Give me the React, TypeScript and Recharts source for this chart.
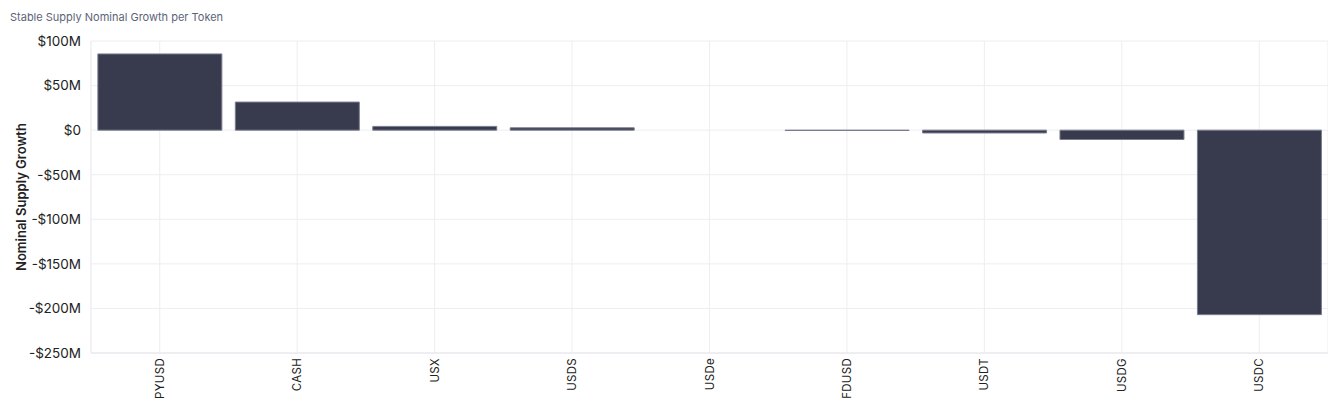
import React from 'react';
import { BarChart, Bar, XAxis, YAxis, CartesianGrid } from 'recharts';

const tokens = ['PYUSD', 'CASH', 'USX', 'USDS', 'USDe', 'FDUSD', 'USDT', 'USDG', 'USDC'];
const growth = [85.5, 31.5, 4.2, 2.6, 0, -0.4, -3.2, -10.5, -207];
const yTicks = [100, 50, 0, -50, -100, -150, -200, -250];

const data = tokens.map((t, i) => ({ token: t, value: growth[i] * 1e6 }));

const fmt = (v: number) => {
  const m = Math.round(v / 1e6);
  if (m === 0) return '$0';
  return m < 0 ? `-$${Math.abs(m)}M` : `$${m}M`;
};

const FONT = 'Inter, "Noto Sans", sans-serif';

const XTick = (props: any) => {
  const { x, y, payload } = props;
  return (
    <text
      x={0}
      y={0}
      transform={`translate(${x + 4},${y - 3}) rotate(-90)`}
      textAnchor="end"
      fontSize={11.5}
      fill="#222"
      fontFamily={FONT}
      letterSpacing={0.3}
    >
      {payload.value}
    </text>
  );
};

const App: React.FC = () => {
  return (
    <div style={{ position: 'relative', width: 1336, height: 410, margin: -8, background: '#fff' }}>
      <div
        style={{
          position: 'absolute',
          left: 10,
          top: 10,
          fontSize: 11,
          color: '#5b6478',
          fontFamily: FONT,
        }}
      >
        Stable Supply Nominal Growth per Token
      </div>
      <div
        style={{
          position: 'absolute',
          left: 21,
          top: 197,
          transform: 'translate(-50%, -50%) rotate(-90deg)',
          fontSize: 13,
          fontWeight: 600,
          color: '#222',
          fontFamily: FONT,
          whiteSpace: 'nowrap',
        }}
      >
        Nominal Supply Growth
      </div>
      <BarChart
        width={1336}
        height={410}
        data={data}
        margin={{ top: 41, right: 8, bottom: 0, left: 29 }}
        barCategoryGap="5%"
      >
        <CartesianGrid stroke="#eeeef2" vertical={true} />
        <XAxis
          dataKey="token"
          interval={0}
          tickLine={false}
          axisLine={{ stroke: '#e6e6ec' }}
          tick={<XTick />}
          height={57}
        />
        <YAxis
          domain={[-250e6, 100e6]}
          ticks={yTicks.map((t) => t * 1e6)}
          tickFormatter={fmt}
          tickLine={false}
          axisLine={{ stroke: '#eeeef2' }}
          width={62}
          tick={{ fontSize: 13.5, fill: '#222', fontFamily: FONT }}
          tickMargin={4}
        />
        <Bar dataKey="value" fill="#383b4e" stroke="#7a7d90" strokeWidth={1} isAnimationActive={false} />
      </BarChart>
    </div>
  );
};

export default App;
